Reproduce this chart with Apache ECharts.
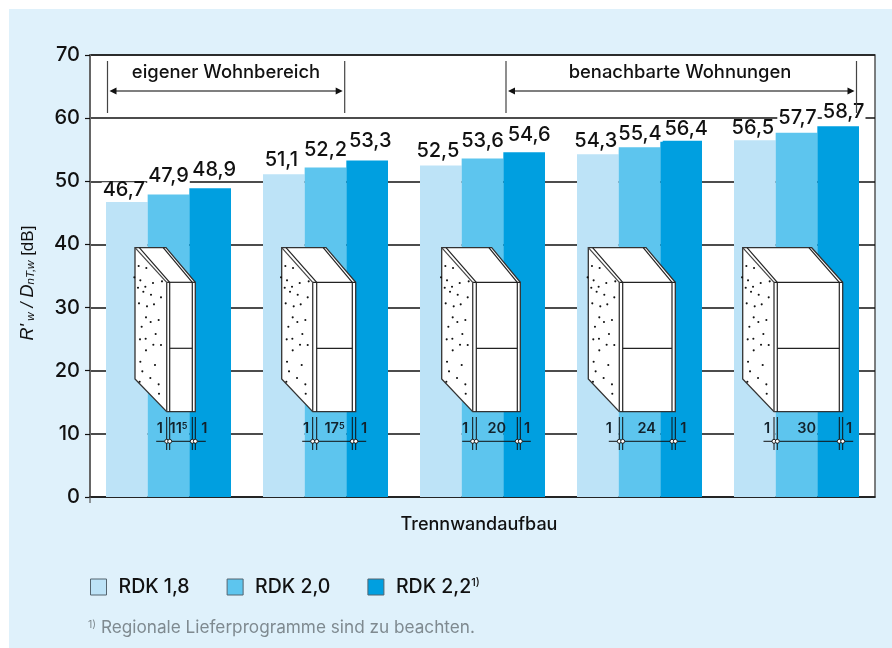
<!DOCTYPE html>
<html><head><meta charset="utf-8">
<script src="https://cdn.jsdelivr.net/npm/echarts@6/dist/echarts.min.js"></script>
<style>
html,body{margin:0;padding:0;background:#fff;}
#panel{position:absolute;left:9px;top:9px;width:883px;height:639px;background:#dff1fb;}
#c{position:absolute;left:0;top:0;width:892px;height:648px;}
</style></head><body>
<div id="panel"></div><div id="c"></div>
<script>
const categories = ['11,5','17,5','20','24','30'];
const rdk18 = [46.7,51.1,52.5,54.3,56.5];
const rdk20 = [47.9,52.2,53.6,55.4,57.7];
const rdk22 = [48.9,53.3,54.6,56.4,58.7];
const seriesNames = ['RDK 1,8','RDK 2,0','RDK 2,2'];
const yTicks = [0,10,20,30,40,50,60,70];
const wallCaptions = [['1','11{s|5}','1'],['1','17{s|5}','1'],['1','20','1'],['1','24','1'],['1','30','1']];

// presentation only
const FONT = 'Inter';
const colors = ['#bde3f7','#5dc5ee','#009fe0'];
const lift = [[11.8,14.1,14.5,12.9,12.3],[18.8,17.6,17.6,13.5,14.7],[18.7,19.5,17.2,11.9,14.4]];
const nudge = [[-3,-2.5,-3,-2,-2],[0,0,0,0.5,1],[4,3,5,5,5.5]];
// wall outline, px relative to the category centre: back-left, front-left, inner-left, inner-right, right, back-right
const wallX = [
 [-33.5,-1.8,1.2,23.8,26.8,-2.5],
 [-43.8,-12.8,-8.8,26.8,30.2,0.5],
 [-40.8,-9.8,-6.2,34.8,37.8,9.2],
 [-51.2,-20.2,-16.8,32.5,35.8,6.5],
 [-53.8,-22.5,-19.2,42.8,46.2,15.2]
];
const wallCapX = [[-8.8,10,35.8],[-19.5,9,38.5],[-17.5,14.2,44.5],[-30.8,7.2,43.8],[-29.5,10.2,52.5]];
const dots = [[146,108],[169,114],[133,142],[151,151],[189,159],[216,154],[144,173],[166,170],[160,185],[183,194],[213,202],[147,220],[171,229],[192,223],[168,262],[182,276],[206,270],[155,290],[197,312],[150,328],[167,326],[190,344],[213,345],[168,361],[151,395],[195,405],[157,424],[181,444],[149,455],[206,463],[207,491]];

function mkBar(i, vals){
  return {
    name: seriesNames[i], type:'bar', barWidth:41.67, barGap:0, z:2,
    itemStyle:{color:colors[i]},
    data: vals.map((v,k)=>({value:v,label:{offset:[nudge[i][k],-(lift[i][k]-8)]}})),
    label:{show:true,position:'top',distance:0,fontFamily:FONT,fontSize:20,fontWeight:500,color:'#111',
      backgroundColor:'#fff',padding:[0,1,0,1],lineHeight:16,
      formatter:p=>String(p.value).replace('.',',')}
  };
}

function renderWall(params, api){
  const i = api.value(0);
  const o = api.coord([i,0]);
  const cx = o[0], y0 = o[1];
  const w = wallX[i].map(d=>cx+d);
  const [bl,fl,i1,i2,r,br] = w;
  const yB = y0-249.3, yF = y0-214.7, yBb = y0-118, yFb = y0-85.3, yM = y0-148.7;
  const st = {stroke:'#222',lineWidth:1.2,fill:null};
  const line=(a,b,c,d,s)=>({type:'line',shape:{x1:a,y1:b,x2:c,y2:d},style:Object.assign({},st,s||{}),silent:true});
  const ch = [];
  ch.push({type:'polygon',shape:{points:[[bl,yB],[br,yB],[r,yF],[r,yFb],[fl,yFb],[bl,yBb]]},style:{fill:'#fff',stroke:'#333',lineWidth:1.3}});
  ch.push(line(bl,yB,fl,yF,{stroke:'#444'}));
  ch.push(line(bl+4.3,yB,i1,yF));
  ch.push(line(br-2.8,yB,i2,yF));
  ch.push(line(fl,yF,r,yF));
  ch.push(line(fl,yF,fl,yFb,{stroke:'#444',lineWidth:1.4}));
  ch.push(line(i1,yF,i1,yFb));
  ch.push(line(i2,yF,i2,yFb));
  ch.push(line(i1,yM,i2,yM));
  dots.forEach(d=>ch.push({type:'circle',shape:{cx:bl+(d[0]-135)/3,cy:yB+(d[1]-53)/3,r:1.05},style:{fill:'#111'}}));
  // dimension line
  const yD = y0-55.7;
  ch.push(line(fl-10.5,yD,r+10.5,yD,{stroke:'#111',lineWidth:1}));
  [fl,i1,i2,r].forEach(x=>{
    ch.push(line(x,y0-80,x,y0-47,{stroke:'#111',lineWidth:1}));
  });
  [fl,i1,i2,r].forEach(x=>{
    ch.push({type:'circle',shape:{cx:x,cy:yD,r:2},style:{fill:'#fff',stroke:'#111',lineWidth:0.9}});
  });
  wallCaptions[i].forEach((t,k)=>{
    ch.push({type:'text',style:{x:cx+wallCapX[i][k],y:y0-68,text:t,align:'center',verticalAlign:'middle',
      font:'600 14.5px '+FONT,fill:'#12222c',
      rich:{s:{fontFamily:FONT,fontSize:9,fontWeight:600,fill:'#12222c',verticalAlign:'top',padding:[0,0,5,0]}}}});
  });
  return {type:'group',children:ch};
}

const bracket=(x1,x2,label,cx)=>[
  {type:'line',shape:{x1:x1,y1:61,x2:x1,y2:113},style:{stroke:'#444',lineWidth:1.2}},
  {type:'line',shape:{x1:x2,y1:61,x2:x2,y2:113},style:{stroke:'#444',lineWidth:1.2}},
  {type:'line',shape:{x1:x1+6,y1:91,x2:x2-6,y2:91},style:{stroke:'#555',lineWidth:1.5}},
  {type:'polygon',shape:{points:[[x1+2,91],[x1+9,87.5],[x1+9,94.5]]},style:{fill:'#111'}},
  {type:'polygon',shape:{points:[[x2-2,91],[x2-9,87.5],[x2-9,94.5]]},style:{fill:'#111'}},
  {type:'text',style:{x:cx,y:72,text:label,align:'center',verticalAlign:'middle',font:'500 18.4px '+FONT,fill:'#111'}}
];

const chart = echarts.init(document.getElementById('c'),null,{renderer:'canvas'});
chart.setOption({
  animation:false,
  backgroundColor:'transparent',
  textStyle:{fontFamily:FONT},
  title:{text:'{s|1)} Regionale Lieferprogramme sind zu beachten.',left:88,top:619,padding:0,
    textStyle:{fontFamily:FONT,fontSize:17.2,fontWeight:400,color:'#7f8a90',
      rich:{s:{fontFamily:FONT,fontSize:10.5,color:'#7f8a90',verticalAlign:'top',padding:[0,0,5,0]}}}},
  legend:{left:90,top:577,padding:0,itemWidth:16,itemHeight:16,itemGap:37,icon:'rect',
    itemStyle:{borderColor:'#55656f',borderWidth:1},
    data:seriesNames,
    formatter:n=> n==='RDK 2,2' ? '{a|'+n+'}{b|1)}' : '{a|'+n+'}',
    textStyle:{rich:{
      a:{fontFamily:FONT,fontSize:19.5,fontWeight:500,color:'#111',padding:[0,0,0,7]},
      b:{fontFamily:FONT,fontSize:11,fontWeight:500,color:'#111',verticalAlign:'top',padding:[0,0,5,0]}}}},
  grid:{left:90,right:17,top:55,bottom:151,show:true,backgroundColor:'#fff',borderColor:'#555',borderWidth:1.5},
  xAxis:{type:'category',data:categories,name:'Trennwandaufbau',nameLocation:'middle',nameGap:19,
    nameTextStyle:{fontFamily:FONT,fontSize:18,fontWeight:500,color:'#111',padding:[0,7,0,0]},
    axisLabel:{show:false},axisTick:{show:false},axisLine:{show:true,lineStyle:{color:'#222',width:1.5}}},
  yAxis:{type:'value',min:0,max:70,interval:10,
    name:"{i|R'}{u| w}{i| / D}{u|nT,w}{n| [dB]}",nameLocation:'middle',nameGap:53,nameRotate:90,
    nameTextStyle:{padding:[0,14,0,0],rich:{
      i:{fontFamily:'Liberation Sans',fontSize:18,fontStyle:'italic',fontWeight:400,color:'#111'},
      u:{fontFamily:'Liberation Sans',fontSize:11.5,fontStyle:'italic',fontWeight:400,color:'#111',verticalAlign:'bottom',padding:[5,0,0,0]},
      n:{fontFamily:'Liberation Sans',fontSize:17,color:'#111'}}},
    axisLine:{show:true,lineStyle:{color:'#666',width:2}},
    axisTick:{show:true,length:5,lineStyle:{color:'#111',width:1.2}},
    axisLabel:{fontFamily:FONT,fontSize:20,fontWeight:500,color:'#111',margin:10,formatter:v=>yTicks.includes(v)?String(v):''},
    splitLine:{show:true,lineStyle:{color:'#111',width:1.5}}},
  graphic:{elements:[
    {type:'line',z:50,shape:{x1:90,y1:497,x2:90,y2:503},style:{stroke:'#555',lineWidth:1.2}},
    ...bracket(107.5,344.7,'eigener Wohnbereich',226),
    ...bracket(506,856.5,'benachbarte Wohnungen',680)
  ].map(e=>Object.assign({z:50},e))},
  series:[mkBar(0,rdk18),mkBar(1,rdk20),mkBar(2,rdk22),
    {type:'custom',z:5,clip:false,silent:true,data:categories.map((c,i)=>[i]),encode:{x:0},renderItem:renderWall,tooltip:{show:false}}]
});
</script></body></html>
